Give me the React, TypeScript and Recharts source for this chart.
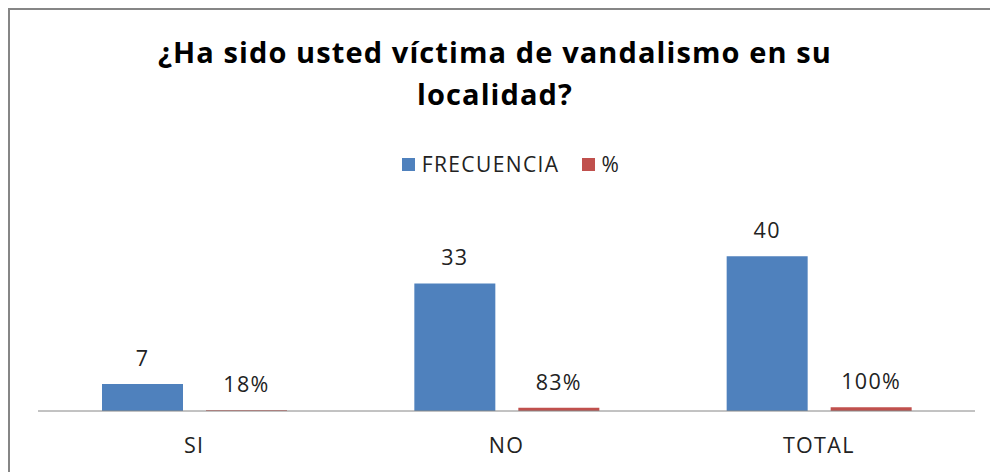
import React from "react";
import { BarChart, Bar, XAxis, YAxis, Legend, LabelList } from "recharts";

const categories = ["SI", "NO", "TOTAL"];
const frecuencia = [7, 33, 40];
const porcentaje = [0.18, 0.83, 1.0];
const seriesNames = ["FRECUENCIA", "%"];
const colors = ["#4F81BD", "#C0504D"];

const data = categories.map((c, i) => ({ name: c, frec: frecuencia[i], pct: porcentaje[i] }));

const FONT = "'Open Sans', sans-serif";
const textStyle = { fontFamily: FONT, fontSize: 21.5, fill: "#222", letterSpacing: 1.3 };

const LegendContent = () => (
  <div style={{ display: "flex", justifyContent: "center", alignItems: "center", paddingLeft: 32, fontFamily: FONT, fontSize: 21, letterSpacing: 1.4, color: "#222" }}>
    {seriesNames.map((n, i) => (
      <div key={n} style={{ display: "flex", alignItems: "center", marginRight: i === 0 ? 22 : 0 }}>
        <span style={{ display: "inline-block", width: 13, height: 13, background: colors[i], marginRight: 7 }} />
        <span>{n}</span>
      </div>
    ))}
  </div>
);

export default function App() {
  return (
    <div style={{ position: "absolute", left: 0, top: 0, width: 990, height: 472, overflow: "hidden", background: "#fff" }}>
      <div style={{ position: "absolute", left: 8, top: 8, width: 1100, height: 600, border: "2px solid #868686", boxSizing: "border-box" }} />
      <div style={{ position: "absolute", left: 0, top: 31, width: 990, textAlign: "center", fontFamily: FONT, fontWeight: 700, fontSize: 29, letterSpacing: 1.1, lineHeight: "42px", color: "#000" }}>
        ¿Ha sido usted víctima de vandalismo en su<br />localidad?
      </div>
      <div style={{ position: "absolute", left: 0, top: 0 }}>
        <BarChart width={990} height={472} data={data} margin={{ top: 237, right: 15, bottom: 31, left: 38 }} barSize={81} barGap={23}>
          <XAxis dataKey="name" tickLine={false} axisLine={{ stroke: "#868686", strokeWidth: 1 }} tick={textStyle} tickMargin={21} height={30} />
          <YAxis hide domain={[0, 45]} />
          <Legend layout="horizontal" verticalAlign="middle" align="center" content={<LegendContent />} wrapperStyle={{ position: "absolute", top: 150, left: 0, width: 990 }} />
          <Bar dataKey="frec" name={seriesNames[0]} fill={colors[0]} isAnimationActive={false}>
            <LabelList dataKey="frec" position="top" offset={18} style={textStyle} />
          </Bar>
          <Bar dataKey="pct" name={seriesNames[1]} fill={colors[1]} isAnimationActive={false}>
            <LabelList dataKey="pct" position="top" offset={18} formatter={(v: number) => `${Math.round(v * 100)}%`} style={textStyle} />
          </Bar>
        </BarChart>
      </div>
    </div>
  );
}
